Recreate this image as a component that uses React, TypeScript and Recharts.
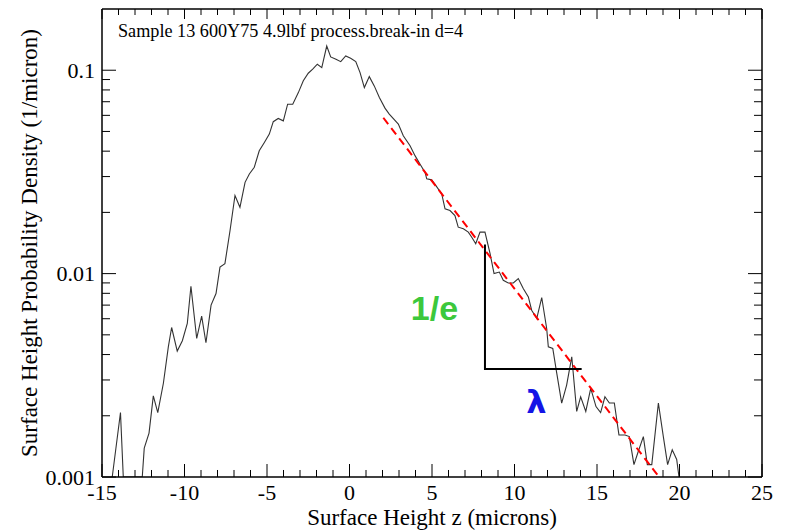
import React from 'react';
import { LineChart, Line, XAxis, YAxis, ReferenceDot } from 'recharts';

// Measured surface height distribution (z in microns, density in 1/micron)
const surfaceHeight = [
  -14.38, -13.88, -13.71, -12.56, -12.44, -12.15, -11.89, -11.62, -11.28, -10.98,
  -10.78, -10.44, -10.13, -9.83, -9.61, -9.26, -8.96, -8.7, -8.39, -8.09,
  -7.85, -7.55, -7.24, -6.94, -6.64, -6.33, -6.07, -5.77, -5.47, -5.16,
  -4.86, -4.62, -4.32, -4.01, -3.75, -3.44, -3.1, -2.8, -2.5, -2.23,
  -1.95, -1.68, -1.38, -1.14, -0.82, -0.53, -0.23, 0.07, 0.38, 0.64,
  0.9, 1.2, 1.5, 1.81, 2.15, 2.41, 2.96, 3.26, 3.67, 3.97,
  4.27, 4.58, 4.68, 4.98, 5.28, 5.59, 5.79, 6.09, 6.39, 6.59,
  6.9, 7.2, 7.41, 7.65, 7.91, 8.21, 8.52, 8.76, 9.08, 9.32,
  9.62, 9.93, 10.23, 10.53, 10.84, 11.04, 11.35, 11.65, 11.95, 12.05,
  12.32, 12.56, 12.86, 13.16, 13.47, 13.77, 14.01, 14.32, 14.62, 14.94,
  15.22, 15.48, 15.75, 16.05, 16.33, 16.7, 16.96, 17.24, 17.5, 17.81,
  18.05, 18.32, 18.72, 19.02, 19.28, 19.56, 19.83, 19.97,
];
const density = [
  0.001, 0.002075, 0.001, 0.001, 0.001387, 0.001644, 0.002506, 0.002075, 0.002891, 0.004365,
  0.005433, 0.004159, 0.004677, 0.005689, 0.00867, 0.004799, 0.00618, 0.004571, 0.007, 0.00798,
  0.010765, 0.011194, 0.016293, 0.02421, 0.021184, 0.028104, 0.030903, 0.033343, 0.040179, 0.044157,
  0.048529, 0.055847, 0.057943, 0.056364, 0.068077, 0.068077, 0.077625, 0.088716, 0.096671, 0.10114,
  0.10701, 0.10297, 0.13152, 0.11621, 0.11318, 0.1102, 0.1175, 0.1145, 0.1102, 0.09732,
  0.08217, 0.09302, 0.08375, 0.07338, 0.06511, 0.06085, 0.05435, 0.04764, 0.04256, 0.03802,
  0.03459, 0.03147, 0.02924, 0.02891, 0.02679, 0.02466, 0.02084, 0.02042, 0.01931, 0.01692,
  0.01663, 0.016, 0.0151, 0.01403, 0.016, 0.016, 0.01253, 0.01, 0.01018, 0.00927,
  0.00899, 0.00899, 0.00945, 0.00844, 0.00768, 0.00661, 0.00602, 0.00763, 0.00537, 0.00437,
  0.00429, 0.00324, 0.00231, 0.00283, 0.0039, 0.0021, 0.00248, 0.0021, 0.00273, 0.00222,
  0.002075, 0.00248, 0.00231, 0.00231, 0.00161, 0.00161, 0.00158, 0.00115, 0.001335, 0.00158,
  0.00115, 0.00115, 0.00231, 0.00158, 0.00115, 0.00136, 0.00122, 0.001,
];

// Exponential fit (straight on the log axis)
const fitHeight = [2.05, 18.76];
const fitDensity = [0.0584, 0.001];

// 1/e triangle
const markerHeight = [8.21, 8.21, 14.07];
const markerDensity = [0.01392, 0.003396, 0.003396];

const xMajorTicks = [-15, -10, -5, 0, 5, 10, 15, 20, 25];
const xMinorTicks = [
  -14, -13, -12, -11, -9, -8, -7, -6, -4, -3, -2, -1, 1, 2, 3, 4, 6, 7, 8, 9,
  11, 12, 13, 14, 16, 17, 18, 19, 21, 22, 23, 24,
];
const yMajorTicks = [0.001, 0.01, 0.1];
const yMinorTicks = [
  0.002, 0.003, 0.004, 0.005, 0.006, 0.007, 0.008, 0.009,
  0.02, 0.03, 0.04, 0.05, 0.06, 0.07, 0.08, 0.09,
];

const titleText = 'Sample 13 600Y75 4.9lbf process.break-in d=4';
const xTitle = 'Surface Height z (microns)';
const yTitle = 'Surface Height Probability Density (1/micron)';
const titleAnchor = { z: -14.03, v: 0.1456 };
const invEAnchor = { z: 5.15, v: 0.0068 };
const lambdaAnchor = { z: 11.32, v: 0.00236 };

const X_DOMAIN: [number, number] = [-15, 25];
const Y_DOMAIN: [number, number] = [0.001, 0.2];
const SERIF = '"Liberation Serif", "Times New Roman", serif';
const SANS = '"Liberation Sans", Arial, sans-serif';

const curveData = surfaceHeight.map((z, i) => ({ z, v: density[i] }));
const fitData = fitHeight.map((z, i) => ({ z, v: fitDensity[i] }));
const markerData = markerHeight.map((z, i) => ({ z, v: markerDensity[i] }));

const YTitleLabel = (props: any) => {
  const vb = props.viewBox || {};
  const cx = vb.x - 1;
  const cy = vb.y + vb.height / 2;
  return (
    <text
      x={cx}
      y={cy}
      transform={`rotate(-90 ${cx} ${cy})`}
      textAnchor="middle"
      dominantBaseline="central"
      fontFamily={SERIF}
      fontSize={23}
      fill="#000"
    >
      {yTitle}
    </text>
  );
};

const TitleLabel = (props: any) => {
  const vb = props.viewBox || {};
  return (
    <text x={vb.x} y={vb.y} fontFamily={SERIF} fontSize={18.2} fill="#000">
      {titleText}
    </text>
  );
};

const blank = () => '';
const THIN = 0.01;

export default function App() {
  const xTickAxis = (id: string, orientation: 'top' | 'bottom', ticks: number[], size: number, line: boolean) => (
    <XAxis
      key={id}
      xAxisId={id}
      dataKey="z"
      type="number"
      orientation={orientation}
      mirror
      height={THIN}
      domain={X_DOMAIN}
      allowDataOverflow
      ticks={ticks}
      interval={0}
      tickFormatter={blank}
      tick={{ fontSize: 1, fill: 'none' }}
      tickSize={size}
      tickLine={{ stroke: '#000', strokeWidth: 1 }}
      axisLine={line ? { stroke: '#000', strokeWidth: 1.5 } : false}
    />
  );
  const yTickAxis = (id: string, orientation: 'left' | 'right', ticks: number[], size: number, line: boolean) => (
    <YAxis
      key={id}
      yAxisId={id}
      dataKey="v"
      type="number"
      scale="log"
      orientation={orientation}
      mirror
      width={THIN}
      domain={Y_DOMAIN}
      allowDataOverflow
      ticks={ticks}
      interval={0}
      tickFormatter={blank}
      tick={{ fontSize: 1, fill: 'none' }}
      tickSize={size}
      tickLine={{ stroke: '#000', strokeWidth: 1 }}
      axisLine={line ? { stroke: '#000', strokeWidth: 1.5 } : false}
    />
  );

  return (
    <div style={{ position: 'absolute', left: 0, top: 0, width: 787, height: 530, background: '#fff' }}>
      <LineChart width={787} height={530} margin={{ top: 9, right: 25, bottom: 0, left: 30 }}>
        <XAxis
          xAxisId="x"
          dataKey="z"
          type="number"
          domain={X_DOMAIN}
          allowDataOverflow
          ticks={xMajorTicks}
          interval={0}
          height={53}
          tickLine={false}
          tickSize={0}
          tickMargin={7}
          axisLine={{ stroke: '#000', strokeWidth: 1.5 }}
          tick={{ fontFamily: SERIF, fontSize: 22, fill: '#000' }}
          label={{ value: xTitle, position: 'insideBottom', offset: 5, fontFamily: SERIF, fontSize: 23, fill: '#000' }}
        />
        <YAxis
          yAxisId="y"
          dataKey="v"
          type="number"
          scale="log"
          domain={Y_DOMAIN}
          allowDataOverflow
          ticks={yMajorTicks}
          interval={0}
          width={72}
          tickLine={false}
          tickSize={0}
          tickMargin={7}
          axisLine={{ stroke: '#000', strokeWidth: 1.5 }}
          tick={{ fontFamily: SERIF, fontSize: 22, fill: '#000' }}
          tickFormatter={(v: number) => String(v)}
          label={{ content: YTitleLabel }}
        />
        {xTickAxis('xb1', 'bottom', xMajorTicks, 13, false)}
        {xTickAxis('xb2', 'bottom', xMinorTicks, 7, false)}
        {xTickAxis('xt1', 'top', xMajorTicks, 10, true)}
        {xTickAxis('xt2', 'top', xMinorTicks, 6, false)}
        {yTickAxis('yl1', 'left', yMajorTicks, 14, false)}
        {yTickAxis('yl2', 'left', yMinorTicks, 8, false)}
        {yTickAxis('yr1', 'right', yMajorTicks, 14, true)}
        {yTickAxis('yr2', 'right', yMinorTicks, 8, false)}

        <Line
          xAxisId="x"
          yAxisId="y"
          data={curveData}
          dataKey="v"
          type="linear"
          stroke="#333"
          strokeWidth={1.1}
          dot={false}
          activeDot={false}
          isAnimationActive={false}
        />
        <Line
          xAxisId="x"
          yAxisId="y"
          data={fitData}
          dataKey="v"
          type="linear"
          stroke="#ff0000"
          strokeWidth={2}
          strokeDasharray="8 5"
          dot={false}
          activeDot={false}
          isAnimationActive={false}
        />
        <Line
          xAxisId="x"
          yAxisId="y"
          data={markerData}
          dataKey="v"
          type="linear"
          stroke="#000"
          strokeWidth={2}
          dot={false}
          activeDot={false}
          isAnimationActive={false}
        />
        <ReferenceDot
          xAxisId="x"
          yAxisId="y"
          x={titleAnchor.z}
          y={titleAnchor.v}
          r={0}
          stroke="none"
          fill="none"
          label={{ content: TitleLabel }}
        />
        <ReferenceDot
          xAxisId="x"
          yAxisId="y"
          x={invEAnchor.z}
          y={invEAnchor.v}
          r={0}
          stroke="none"
          fill="none"
          label={{ value: '1/e', position: 'center', fill: '#3cc83c', fontSize: 34, fontWeight: 'bold', fontFamily: SANS }}
        />
        <ReferenceDot
          xAxisId="x"
          yAxisId="y"
          x={lambdaAnchor.z}
          y={lambdaAnchor.v}
          r={0}
          stroke="none"
          fill="none"
          label={{ value: 'λ', position: 'center', fill: '#1414e6', fontSize: 32, fontWeight: 'bold', fontFamily: '"DejaVu Sans", sans-serif' }}
        />
      </LineChart>
    </div>
  );
}
